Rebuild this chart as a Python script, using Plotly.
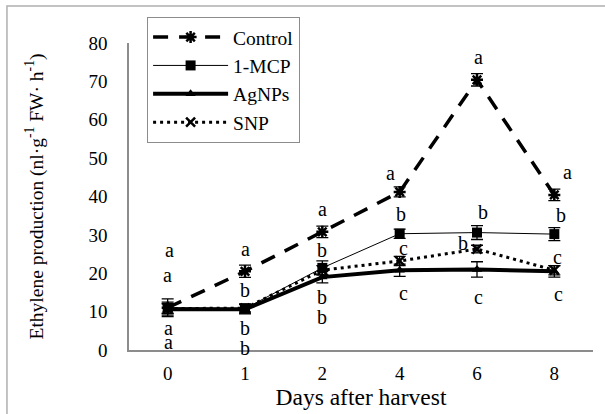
import plotly.graph_objects as go

days = ["0", "1", "2", "4", "6", "8"]

control = [11.0, 20.5, 30.8, 41.2, 70.4, 40.4]
mcp = [11.0, 10.8, 21.4, 30.3, 30.6, 30.2]
agnps = [10.6, 10.6, 19.0, 20.8, 21.0, 20.5]
snp = [10.8, 10.9, 20.8, 23.2, 26.3, 20.8]

control_err = [2.3, 1.6, 1.5, 1.3, 1.6, 1.5]
mcp_err = [1.5, 1.2, 1.8, 1.2, 1.8, 1.7]
agnps_err = [1.5, 1.2, 1.5, 1.6, 2.0, 1.5]
snp_err = [1.2, 1.0, 1.2, 1.2, 1.0, 1.2]

control_letters = ["a", "a", "a", "a", "a", "a"]
mcp_letters = ["a", "b", "b", "b", "b", "b"]
snp_letters = ["a", "b", "b", "c", "b", "c"]
agnps_letters = ["a", "b", "b", "c", "c", "c"]

control_label_y = [26.0, 26.3, 36.7, 46.0, 76.4, 46.4]
mcp_label_y = [19.5, 15.6, 26.0, 35.4, 36.0, 35.2]
snp_label_y = [5.7, 5.7, 13.8, 26.6, 27.9, 24.2]
agnps_label_y = [2.1, 0.5, 8.6, 14.9, 13.8, 14.6]

control_label_dx = [2, 0, 0, -9, 1, 13]
mcp_label_dx = [0, 0, 0, 1, 6, 7]
snp_label_dx = [1, 0, 0, 4, -14, 3]
agnps_label_dx = [1, 0, 0, 4, 1, 4]

FONT = "Liberation Serif"
AXIS_GRAY = "#8c8c8c"

fig = go.Figure()

def add_series(name, vals, errs, line, marker):
    fig.add_trace(go.Scatter(
        x=days, y=vals, name=name, mode="lines+markers",
        line=line, marker=marker,
        error_y=dict(type="data", array=errs, visible=True,
                     color="black", thickness=1.3, width=6),
    ))

add_series("Control", control, control_err,
           dict(color="black", width=3.5, dash="15px,11px"),
           dict(symbol="asterisk-open", size=10, color="black",
                line=dict(color="black", width=2.5)))
add_series("1-MCP", mcp, mcp_err,
           dict(color="black", width=1),
           dict(symbol="square", size=10, color="black"))
add_series("AgNPs", agnps, agnps_err,
           dict(color="black", width=4),
           dict(symbol="triangle-up", size=9, color="black"))
add_series("SNP", snp, snp_err,
           dict(color="black", width=3, dash="3px,4px"),
           dict(symbol="x-thin-open", size=9, color="black",
                line=dict(color="black", width=2.5)))

annotations = []
for letters, ys, dxs in [
    (control_letters, control_label_y, control_label_dx),
    (mcp_letters, mcp_label_y, mcp_label_dx),
    (snp_letters, snp_label_y, snp_label_dx),
    (agnps_letters, agnps_label_y, agnps_label_dx),
]:
    for i, (t, yv, dx) in enumerate(zip(letters, ys, dxs)):
        annotations.append(dict(
            x=i, y=yv, xref="x", yref="y", text=t, showarrow=False,
            xshift=dx, font=dict(family=FONT, size=20, color="black"),
        ))

fig.update_layout(
    width=605, height=414,
    margin=dict(l=129, r=12, t=43, b=64),
    paper_bgcolor="white", plot_bgcolor="white",
    font=dict(family=FONT, color="black", size=19),
    showlegend=True,
    legend=dict(
        x=0.039, y=1.085, xanchor="left", yanchor="top",
        bgcolor="white", bordercolor=AXIS_GRAY, borderwidth=1,
        font=dict(family=FONT, size=19.5, color="black"),
        itemwidth=75, tracegroupgap=0,
    ),
    annotations=annotations,
    shapes=[dict(type="rect", xref="paper", yref="paper",
                 x0=-0.263, x1=1.2, y0=-0.35, y1=1.1205,
                 line=dict(color="#b0b0b0", width=1.5), layer="below")],
)

fig.update_xaxes(
    type="category", categoryorder="array", categoryarray=days,
    range=[-0.5, 5.5], showgrid=False, zeroline=False,
    showline=True, linecolor=AXIS_GRAY, linewidth=1.5,
    ticks="", ticklabelstandoff=5,
    tickfont=dict(family=FONT, size=19, color="black"),
    title=dict(text="Days after harvest", standoff=0,
               font=dict(family=FONT, size=23.5, color="black")),
    automargin=False,
)
fig.update_yaxes(
    range=[0, 80], dtick=10, showgrid=False, zeroline=False,
    showline=True, linecolor=AXIS_GRAY, linewidth=1.5,
    ticks="", ticklabelstandoff=16,
    tickfont=dict(family=FONT, size=19, color="black"),
    title=dict(text="Ethylene production (nl·g<sup>-1</sup> FW· h<sup>-1</sup>)",
               standoff=40,
               font=dict(family=FONT, size=19.5, color="black")),
    automargin=False,
)

fig.write_html("out.html")
